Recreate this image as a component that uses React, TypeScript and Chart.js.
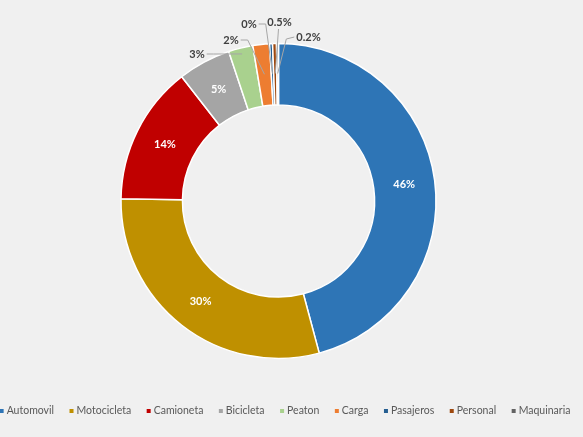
import React from "react";
import { Chart, ChartConfiguration, Plugin, registerables } from "chart.js";

Chart.register(...registerables);

const categories = [
  "Automovil",
  "Motocicleta",
  "Camioneta",
  "Bicicleta",
  "Peaton",
  "Carga",
  "Pasajeros",
  "Personal",
  "Maquinaria",
];
const shares = [45.7, 29.3, 14.2, 5.4, 2.5, 1.7, 0.3, 0.4, 0.2];
const shareLabels = ["46%", "30%", "14%", "5%", "3%", "2%", "0%", "0.5%", "0.2%"];

const colors = [
  "#2E75B6",
  "#BF9000",
  "#C00000",
  "#A5A5A5",
  "#A9D18E",
  "#ED7D31",
  "#255E91",
  "#9E480E",
  "#636363",
];

// callouts for the thin slices: label offset from the centre, side the leader leaves from
const callouts: Record<number, { dx: number; dy: number; side: "left" | "right" | "bottom"; depth: number }> = {
  4: { dx: -81.5, dy: -147, side: "right", depth: 6 },
  5: { dx: -47.5, dy: -161, side: "right", depth: 30 },
  6: { dx: -29.5, dy: -177, side: "right", depth: 30 },
  7: { dx: 1, dy: -179, side: "bottom", depth: 30 },
  8: { dx: 30, dy: -164, side: "left", depth: 30 },
};

const BG = "#F0F0F0";

const labelPlugin: Plugin<"doughnut"> = {
  id: "sliceLabels",
  afterDatasetsDraw(chart) {
    const ctx = chart.ctx;
    const meta = chart.getDatasetMeta(0);
    ctx.save();
    ctx.font = "bold 11px Lato";
    ctx.textAlign = "center";
    ctx.textBaseline = "middle";
    meta.data.forEach((el: any, i) => {
      const { x, y, startAngle, endAngle, innerRadius, outerRadius } = el.getProps(
        ["x", "y", "startAngle", "endAngle", "innerRadius", "outerRadius"],
        true
      );
      const mid = (startAngle + endAngle) / 2;
      const c = callouts[i];
      if (!c) {
        const r = (innerRadius + outerRadius) / 2;
        ctx.fillStyle = "#FFFFFF";
        ctx.fillText(shareLabels[i], x + Math.cos(mid) * r, y + Math.sin(mid) * r);
        return;
      }
      const lx = x + c.dx;
      const ly = y + c.dy;
      const w = ctx.measureText(shareLabels[i]).width;
      const er = outerRadius - c.depth;
      const ex = x + Math.cos(mid) * er;
      const ey = y + Math.sin(mid) * er;
      ctx.strokeStyle = "#A6A6A6";
      ctx.lineWidth = 1;
      ctx.beginPath();
      if (c.side === "right") {
        const sx = lx + w / 2 + 2;
        ctx.moveTo(sx, ly);
        ctx.lineTo(sx + 7, ly);
      } else if (c.side === "left") {
        const sx = lx - w / 2 - 2;
        ctx.moveTo(sx, ly);
        ctx.lineTo(sx - 8, ly + 2);
      } else {
        ctx.moveTo(lx - 1, ly + 7);
      }
      ctx.lineTo(ex, ey);
      ctx.stroke();
      ctx.fillStyle = "#404040";
      ctx.fillText(shareLabels[i], lx, ly);
    });
    ctx.restore();
  },
};

const legendPlugin: Plugin<"doughnut"> = {
  id: "bottomLegend",
  afterDraw(chart) {
    const ctx = chart.ctx;
    const box = 4;
    const textGap = 3;
    const itemGap = 15.5;
    ctx.save();
    ctx.font = "10.5px Lato";
    ctx.textBaseline = "middle";
    ctx.textAlign = "left";
    const widths = categories.map((c) => box + textGap + ctx.measureText(c).width);
    const total = widths.reduce((a, b) => a + b, 0) + itemGap * (categories.length - 1);
    let x = 285 - total / 2;
    const y = 411;
    categories.forEach((c, i) => {
      ctx.fillStyle = colors[i];
      ctx.fillRect(x, y - box / 2, box, box);
      ctx.fillStyle = "#595959";
      ctx.fillText(c, x + box + textGap, y);
      x += widths[i] + itemGap;
    });
    ctx.restore();
  },
};

const App: React.FC = () => {
  const canvasRef = React.useRef<HTMLCanvasElement | null>(null);
  const chartRef = React.useRef<Chart<"doughnut"> | null>(null);

  React.useEffect(() => {
    document.body.style.margin = "0";
    const ctx = canvasRef.current;
    if (!ctx) return;
    chartRef.current?.destroy();

    const config: ChartConfiguration<"doughnut"> = {
      type: "doughnut",
      data: {
        labels: categories,
        datasets: [
          {
            data: shares,
            backgroundColor: colors,
            borderColor: "#FFFFFF",
            borderWidth: 1.5,
            radius: 157.5,
            cutout: "61%",
          } as any,
        ],
      },
      options: {
        responsive: false,
        animation: false,
        layout: { padding: { top: 0, bottom: 35, left: 0, right: 26 } },
        plugins: {
          legend: { display: false },
          tooltip: { enabled: false },
        },
      },
      plugins: [labelPlugin, legendPlugin],
    };

    chartRef.current = new Chart(ctx, config);
    return () => {
      chartRef.current?.destroy();
    };
  }, []);

  return (
    <div style={{ width: 583, height: 437, background: BG }}>
      <canvas ref={canvasRef} width={583} height={437} />
    </div>
  );
};

export default App;
